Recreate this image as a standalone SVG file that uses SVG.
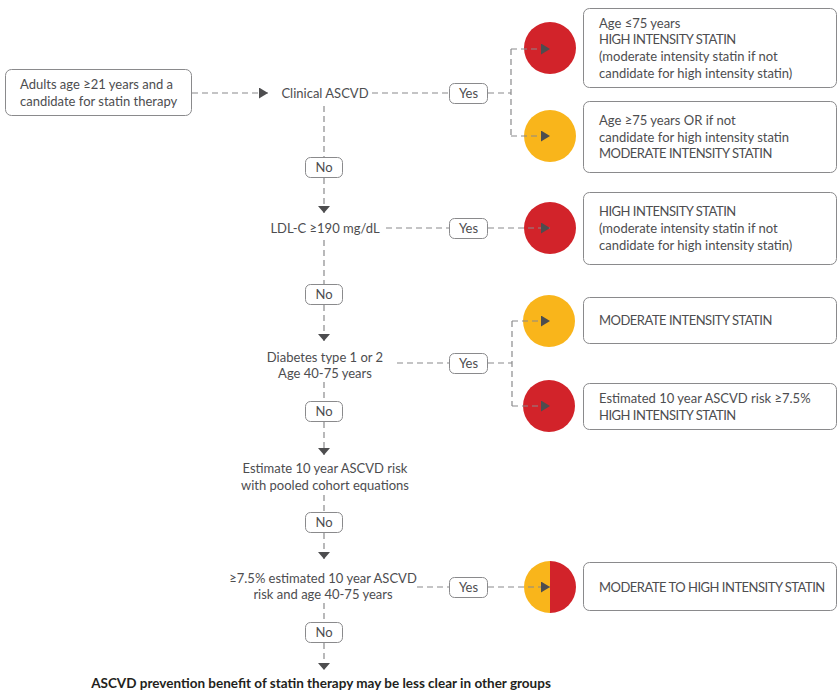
<svg xmlns="http://www.w3.org/2000/svg" width="838" height="690" viewBox="0 0 838 690">
<defs>
<style>
text{font-family:Lato,"Open Sans","Liberation Sans",sans-serif;font-size:13px;fill:#4d4d4f}
.c{text-anchor:middle}
.u{letter-spacing:-0.5px}
.b{font-weight:bold;fill:#231f20;font-size:13.5px}
.box{fill:#fff;stroke:#8a8a8c;stroke-width:1}
.lbl{fill:#fff;stroke:#8a8a8c;stroke-width:1}
.dash{fill:none;stroke:#8a8a8c;stroke-width:1.2;stroke-dasharray:6 4}
.red{fill:#d2232a}
.yel{fill:#f9b51b}
</style>
<marker id="ah" markerUnits="userSpaceOnUse" markerWidth="10" markerHeight="11" refX="9" refY="5.5" orient="auto">
<path d="M0,0 L9,5.5 L0,11 z" fill="#4d4d4f"/>
</marker>
<marker id="ad" markerUnits="userSpaceOnUse" markerWidth="8" markerHeight="12" refX="7" refY="6" orient="auto">
<path d="M0,0 L7,6 L0,12 z" fill="#4d4d4f"/>
</marker>
</defs>

<g id="start">
<rect class="box" x="5.5" y="69.5" width="186" height="46" rx="6"/>
<text x="20" y="89">Adults age ≥21 years and a</text>
<text x="20" y="106">candidate for statin therapy</text>
</g>

<g id="clinical">
<text class="c" x="325" y="98">Clinical ASCVD</text>
</g>

<g id="yes1"><rect class="lbl" x="449.5" y="83.5" width="38" height="20" rx="5"/><text class="c" x="468.5" y="98">Yes</text></g>
<g id="no1"><rect class="lbl" x="305.5" y="157.5" width="37" height="20" rx="5"/><text class="c" x="324" y="172">No</text></g>

<g id="circle1"><circle class="red" cx="550" cy="48" r="26"/></g>
<g id="circle2"><circle class="yel" cx="550" cy="136" r="26"/></g>

<g id="result1">
<rect class="box" x="583.5" y="8.5" width="253" height="79" rx="6"/>
<text x="599" y="28">Age ≤75 years</text>
<text class="u" x="599" y="44">HIGH INTENSITY STATIN</text>
<text x="599" y="61">(moderate intensity statin if not</text>
<text x="599" y="78">candidate for high intensity statin)</text>
</g>

<g id="result2">
<rect class="box" x="583.5" y="101.5" width="253" height="71" rx="6"/>
<text x="599" y="125">Age ≥75 years OR if not</text>
<text x="599" y="142">candidate for high intensity statin</text>
<text class="u" x="599" y="158">MODERATE INTENSITY STATIN</text>
</g>

<g id="ldl">
<text class="c" x="325" y="233">LDL-C ≥190 mg/dL</text>
</g>
<g id="yes2"><rect class="lbl" x="449.5" y="218.5" width="38" height="20" rx="5"/><text class="c" x="468.5" y="233">Yes</text></g>
<g id="circle3"><circle class="red" cx="550" cy="228" r="26"/></g>
<g id="result3">
<rect class="box" x="583.5" y="192.5" width="253" height="72" rx="6"/>
<text class="u" x="599" y="216">HIGH INTENSITY STATIN</text>
<text x="599" y="233">(moderate intensity statin if not</text>
<text x="599" y="250">candidate for high intensity statin)</text>
</g>

<g id="no2"><rect class="lbl" x="305.5" y="284.5" width="37" height="20" rx="5"/><text class="c" x="324" y="299">No</text></g>

<g id="diabetes">
<text class="c" x="325" y="362">Diabetes type 1 or 2</text>
<text class="c" x="325" y="378">Age 40-75 years</text>
</g>
<g id="yes3"><rect class="lbl" x="449.5" y="353.5" width="38" height="20" rx="5"/><text class="c" x="468.5" y="368">Yes</text></g>
<g id="circle4"><circle class="yel" cx="549" cy="321" r="26"/></g>
<g id="circle5"><circle class="red" cx="549" cy="406" r="26"/></g>
<g id="result4">
<rect class="box" x="583.5" y="297.5" width="253" height="46" rx="6"/>
<text class="u" x="599" y="325">MODERATE INTENSITY STATIN</text>
</g>
<g id="result5">
<rect class="box" x="583.5" y="383.5" width="253" height="46" rx="6"/>
<text x="599" y="403">Estimated 10 year ASCVD risk ≥7.5%</text>
<text class="u" x="599" y="420">HIGH INTENSITY STATIN</text>
</g>

<g id="no3"><rect class="lbl" x="305.5" y="401.5" width="37" height="20" rx="5"/><text class="c" x="324" y="416">No</text></g>

<g id="estimate">
<text class="c" x="325" y="473">Estimate 10 year ASCVD risk</text>
<text class="c" x="325" y="490">with pooled cohort equations</text>
</g>

<g id="no4"><rect class="lbl" x="305.5" y="512.5" width="37" height="20" rx="5"/><text class="c" x="324" y="527">No</text></g>

<g id="risk">
<text class="c" x="323" y="583">≥7.5% estimated 10 year ASCVD</text>
<text class="c" x="323" y="599">risk and age 40-75 years</text>
</g>
<g id="yes4"><rect class="lbl" x="449.5" y="577.5" width="38" height="20" rx="5"/><text class="c" x="468.5" y="592">Yes</text></g>
<g id="circle6">
<path class="yel" d="M550,561 A26,26 0 0 0 550,613 Z"/>
<path class="red" d="M550,561 A26,26 0 0 1 550,613 Z"/>
</g>
<g id="result6">
<rect class="box" x="583.5" y="562.5" width="253" height="48" rx="6"/>
<text class="u" x="599" y="592">MODERATE TO HIGH INTENSITY STATIN</text>
</g>

<g id="no5"><rect class="lbl" x="305.5" y="622.5" width="37" height="20" rx="5"/><text class="c" x="324" y="637">No</text></g>

<g id="footer">
<text class="c b" x="321" y="688">ASCVD prevention benefit of statin therapy may be less clear in other groups</text>
</g>

<g id="connectors">
<path class="dash" d="M192,93 H268" marker-end="url(#ah)"/>
<path class="dash" d="M372,93 H449"/>
<path class="dash" d="M488,93 H511 M511,49 V136"/>
<path class="dash" d="M511,49 H550" marker-end="url(#ah)"/>
<path class="dash" d="M511,136 H550" marker-end="url(#ah)"/>
<path class="dash" d="M324,106 V157"/>
<path class="dash" d="M324,178 V213" marker-end="url(#ad)"/>
<path class="dash" d="M386,228 H449"/>
<path class="dash" d="M488,228 H550" marker-end="url(#ah)"/>
<path class="dash" d="M324,240 V284"/>
<path class="dash" d="M324,305 V341" marker-end="url(#ad)"/>
<path class="dash" d="M397,363 H449"/>
<path class="dash" d="M488,363 H512 M512,321 V406"/>
<path class="dash" d="M512,321 H550" marker-end="url(#ah)"/>
<path class="dash" d="M512,406 H550" marker-end="url(#ah)"/>
<path class="dash" d="M324,382 V401"/>
<path class="dash" d="M324,422 V455" marker-end="url(#ad)"/>
<path class="dash" d="M324,495 V512"/>
<path class="dash" d="M324,533 V559" marker-end="url(#ad)"/>
<path class="dash" d="M417,587 H449"/>
<path class="dash" d="M488,587 H550" marker-end="url(#ah)"/>
<path class="dash" d="M324,603 V622"/>
<path class="dash" d="M324,643 V670" marker-end="url(#ad)"/>
</g>
</svg>
